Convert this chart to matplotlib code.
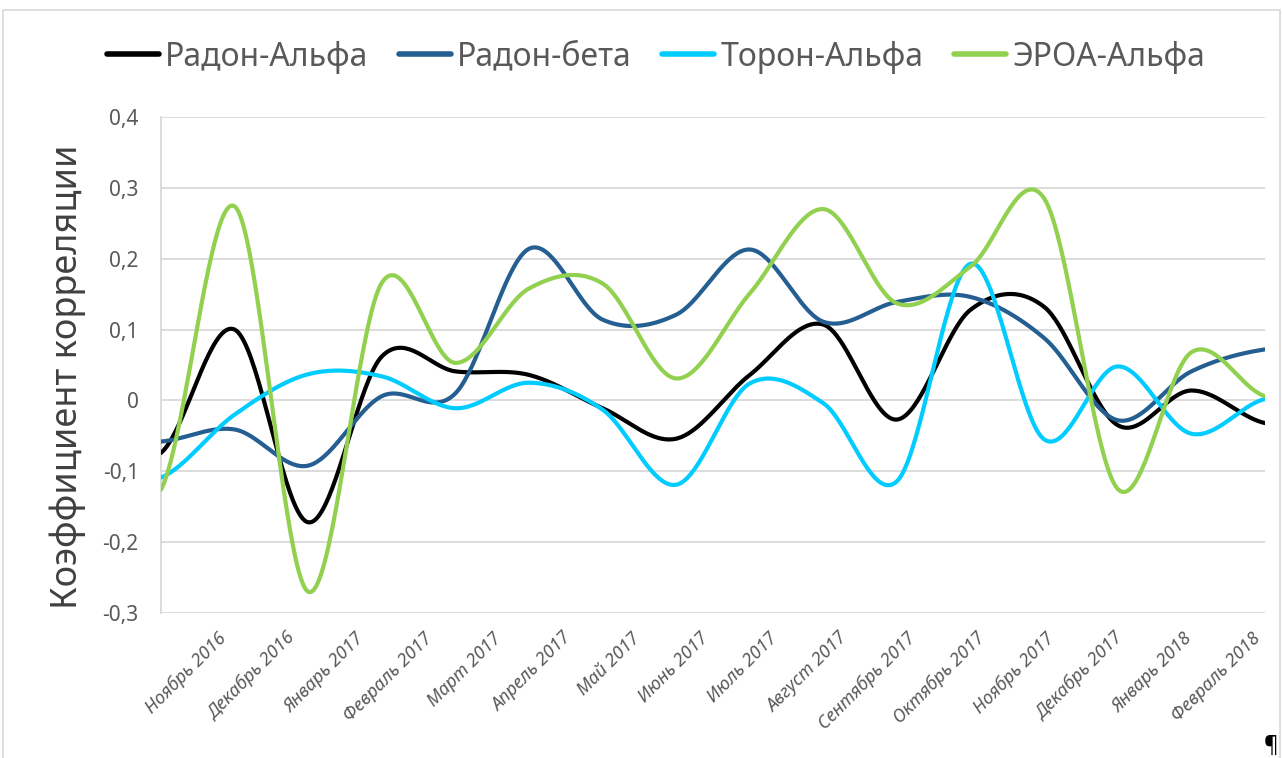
import numpy as np
import matplotlib
matplotlib.use("Agg")
import matplotlib.pyplot as plt
from matplotlib.patches import Rectangle
from matplotlib.transforms import ScaledTranslation

# ---------------- data ----------------
months = ['Ноябрь 2016', 'Декабрь 2016', 'Январь 2017', 'Февраль 2017', 'Март 2017',
          'Апрель 2017', 'Май 2017', 'Июнь 2017', 'Июль 2017', 'Август 2017',
          'Сентябрь 2017', 'Октябрь 2017', 'Ноябрь 2017', 'Декабрь 2017',
          'Январь 2018', 'Февраль 2018']

radon_alpha = [-0.074, 0.100, -0.172, 0.062, 0.041, 0.036, -0.011, -0.054,
               0.036, 0.107, -0.027, 0.128, 0.132, -0.035, 0.014, -0.032]
radon_beta = [-0.058, -0.041, -0.092, 0.006, 0.010, 0.214, 0.114, 0.121,
              0.213, 0.111, 0.139, 0.146, 0.088, -0.028, 0.041, 0.072]
toron_alpha = [-0.109, -0.020, 0.037, 0.034, -0.011, 0.025, -0.013, -0.119,
               0.024, -0.004, -0.114, 0.193, -0.055, 0.048, -0.047, 0.002]
eroa_alpha = [-0.126, 0.274, -0.270, 0.166, 0.053, 0.158, 0.165, 0.031,
              0.151, 0.270, 0.137, 0.189, 0.285, -0.125, 0.068, 0.006]

series_names = ['Радон-Альфа', 'Радон-бета', 'Торон-Альфа', 'ЭРОА-Альфа']
series_values = [radon_alpha, radon_beta, toron_alpha, eroa_alpha]
series_colors = ['#000000', '#255E91', '#00CCFF', '#92D050']

y_ticks = [-0.3, -0.2, -0.1, 0.0, 0.1, 0.2, 0.3, 0.4]


def smooth_line(values, n=40):
    """Excel-like smoothed line (cubic Hermite / Catmull-Rom through the points)."""
    y = np.asarray(values, dtype=float)
    N = len(y)
    m = np.empty(N)
    m[1:-1] = (y[2:] - y[:-2]) / 2.0
    m[0] = (y[1] - y[0]) / 2.0
    m[-1] = (y[-1] - y[-2]) / 2.0
    t = np.linspace(0, 1, n, endpoint=False)
    h00 = 2 * t**3 - 3 * t**2 + 1
    h10 = t**3 - 2 * t**2 + t
    h01 = -2 * t**3 + 3 * t**2
    h11 = t**3 - t**2
    xs, ys = [], []
    for i in range(N - 1):
        xs.append(i + t)
        ys.append(h00 * y[i] + h10 * m[i] + h01 * y[i + 1] + h11 * m[i + 1])
    xs.append(np.array([N - 1.0]))
    ys.append(np.array([y[-1]]))
    return np.concatenate(xs), np.concatenate(ys)


plt.rcParams['font.family'] = ['Noto Sans', 'DejaVu Sans']

W, H = 1283, 758
fig = plt.figure(figsize=(W / 100, H / 100), dpi=100)
ax = fig.add_axes([161 / W, 1 - 613 / H, (1265 - 161) / W, (613 - 117) / H])

# chart border
fig.patches.append(Rectangle((3 / W, -0.05), (1280 - 3) / W, 1 - 10 / H + 0.05,
                             transform=fig.transFigure, fill=False,
                             edgecolor='#d9d9d9', linewidth=1.2))

n_cat = len(months)
for name, vals, col in zip(series_names, series_values, series_colors):
    xs, ys = smooth_line(vals)
    ax.plot(xs, ys, color=col, linewidth=3.0, label=name,
            solid_capstyle='round', solid_joinstyle='round', zorder=3)

ax.set_xlim(0, n_cat - 1)
ax.set_ylim(-0.3, 0.4)
ax.set_yticks(y_ticks)
ax.set_yticklabels([('%g' % v).replace('.', ',') if abs(v) > 1e-9 else '0'
                    for v in y_ticks])
ax.yaxis.grid(True, color='#d9d9d9', linewidth=1.3)
ax.set_axisbelow(True)
for s in ['top', 'right', 'bottom']:
    ax.spines[s].set_visible(False)
ax.spines['left'].set_color('#d9d9d9')
ax.spines['left'].set_linewidth(1.3)
ax.tick_params(axis='y', length=0, pad=16, labelsize=15, labelcolor='#595959')

# category labels (month slots)
tick_pos = (np.arange(n_cat) + 1) * (n_cat - 1) / n_cat
ax.set_xticks(tick_pos)
ax.set_xticklabels(months, rotation=45, ha='right', va='center',
                   rotation_mode='anchor', fontsize=13, color='#595959',
                   style='italic')
ax.tick_params(axis='x', length=0, pad=16)
shift = ScaledTranslation(-7 / 100, 0, fig.dpi_scale_trans)
for lbl in ax.get_xticklabels():
    lbl.set_transform(lbl.get_transform() + shift)

fig.text(68 / W, 1 - 377 / H, 'Коэффициент корреляции', rotation=90,
         ha='center', va='center', fontsize=26, color='#404040')

leg = fig.legend(loc='center', bbox_to_anchor=(656 / W, 1 - 57 / H), ncol=4,
                 frameon=False, fontsize=23, handlelength=1.63,
                 handletextpad=0.2, columnspacing=0.95)
for txt in leg.get_texts():
    txt.set_color('#595959')
for ln in leg.get_lines():
    ln.set_linewidth(4)

fig.text(1271 / W, 1 - 745 / H, '¶', ha='center', va='center', fontsize=16,
         fontweight='bold', color='#000000')

fig.savefig('out.png', dpi=100)
